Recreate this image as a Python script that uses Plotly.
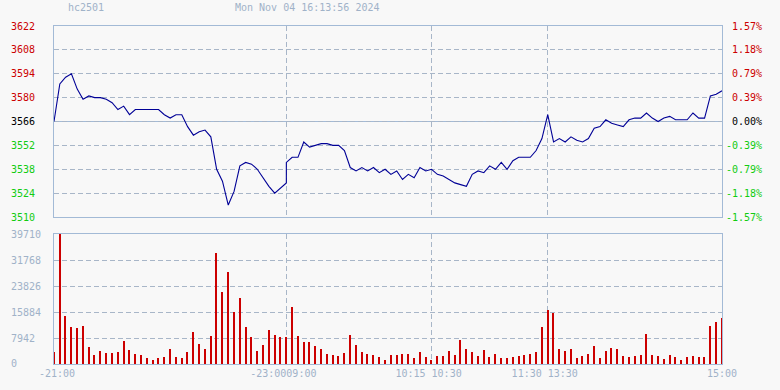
import plotly.graph_objects as go

# ---------------- data ----------------
symbol = "hc2501"
timestamp = "Mon Nov 04 16:13:56 2024"
prev_close = 3566

# trading-minute offsets (night session 21:00-23:00, then day session from 09:00);
# the 23:00 close and the 09:00 open share the same position
price_minutes = list(range(0, 121, 3)) + list(range(120, 346, 3))
prices = [
    3566, 3588, 3592, 3594, 3585, 3579, 3581, 3580, 3580, 3579,
    3577, 3573, 3575, 3570, 3573, 3573, 3573, 3573, 3573, 3570,
    3568, 3570, 3570, 3563, 3558, 3560, 3561, 3557, 3538, 3531,
    3517, 3525, 3540, 3542, 3541, 3538, 3533, 3528, 3524, 3527,
    3530,
    3542, 3545, 3545, 3554, 3551, 3552, 3553, 3553, 3552, 3552,
    3549, 3539, 3537, 3539, 3537, 3539, 3536, 3538, 3535, 3537,
    3532, 3535, 3533, 3539, 3537, 3538, 3535, 3534, 3532, 3530,
    3529, 3528, 3535, 3537, 3536, 3540, 3538, 3542, 3538, 3543,
    3545, 3545, 3545, 3549, 3556, 3570, 3554, 3556, 3554, 3557,
    3555, 3554, 3556, 3562, 3563, 3567, 3565, 3564, 3563, 3567,
    3568, 3568, 3571, 3568, 3566, 3568, 3569, 3567, 3567, 3567,
    3571, 3568, 3568, 3581, 3582, 3584,
]

volume_minutes = list(range(0, 346, 3))
volumes = [
    3770, 39710, 14760, 11200, 10890, 11500, 5290, 2650, 4070, 3260,
    3460, 3770, 7130, 4380, 3160, 2650, 1730, 1120, 1730, 2040,
    4680, 2040, 1730, 3770, 9880, 6210, 4680, 8650, 34000, 22090,
    28200, 15980, 20260, 11400, 8350, 4070, 5900, 10490, 8960, 8350,
    8350, 17510, 8650, 6820, 6820, 5600, 4680, 3160, 2850, 2550,
    3460, 8960, 5900, 3770, 3160, 2850, 2240, 1320, 2850, 2850,
    3160, 3160, 1930, 3770, 2240, 1320, 2550, 2550, 4070, 2850,
    7430, 4680, 3770, 2550, 4380, 2240, 3160, 1930, 1930, 2240,
    2550, 2850, 3160, 3770, 11400, 16490, 15680, 4680, 4070, 4680,
    1930, 2550, 3160, 5600, 1930, 4070, 4990, 4680, 2550, 2240,
    2550, 2850, 9260, 2850, 2550, 1630, 2850, 2240, 1320, 2240,
    2550, 2240, 2240, 11710, 12930, 14150,
]

price_ticks = [3510, 3524, 3538, 3552, 3566, 3580, 3594, 3608, 3622]
pct_labels = ["-1.57%", "-1.18%", "-0.79%", "-0.39%", "0.00%",
              "0.39%", "0.79%", "1.18%", "1.57%"]
vol_ticks = [0, 7942, 15884, 23826, 31768, 39710]
time_ticks = [0, 120, 195, 255, 345]
time_labels = ["-21:00", "-23:0009:00", "10:15 10:30", "11:30 13:30", "15:00"]

# ---------------- style ----------------
BG = "#f8f8f8"
FRAME = "#a3bad6"
GRID = "#a8b6c8"
LABEL = "#a0b2c8"
RED = "#cc0000"
GREEN = "#11cc11"
BLACK = "#000000"
LINE = "#000096"
FONT = "DejaVu Sans Mono"
NB = "\u00a0"


def tick_color(v):
    if v > prev_close:
        return RED
    if v < prev_close:
        return GREEN
    return BLACK


left_text = [f"<span style='color:{tick_color(v)}'>{v}</span>" for v in price_ticks]
right_text = [f"<span style='color:{tick_color(v)}'>{NB * (6 - len(t)) + t}</span>"
              for v, t in zip(price_ticks, pct_labels)]
vol_text = [str(v) + NB * (5 - len(str(v))) for v in vol_ticks]
# small alignment nudges of the time labels (monospace padding)
time_text = [NB + time_labels[0]] + [t + NB for t in time_labels[1:-1]] + [time_labels[-1]]

fig = go.Figure()
fig.add_trace(go.Scatter(x=price_minutes, y=prices, mode="lines",
                         line=dict(color=LINE, width=1.1),
                         xaxis="x", yaxis="y", hoverinfo="skip", showlegend=False))
fig.add_trace(go.Scatter(x=[price_minutes[0]], y=[prev_close], mode="markers",
                         marker=dict(opacity=0), xaxis="x", yaxis="y2",
                         hoverinfo="skip", showlegend=False))
fig.add_trace(go.Bar(x=volume_minutes, y=volumes, xaxis="x2", yaxis="y3",
                     marker=dict(color=RED, line=dict(width=0)), width=0.7,
                     hoverinfo="skip", showlegend=False))

grid_common = dict(showgrid=True, gridcolor=GRID, griddash="5px,3px", gridwidth=1,
                   zeroline=False, showline=True, mirror=True, linecolor=FRAME,
                   linewidth=1, ticks="")

fig.update_layout(
    width=780, height=390,
    margin=dict(l=54, r=58, t=26, b=26),
    paper_bgcolor=BG, plot_bgcolor=BG,
    font=dict(family=FONT, size=10, color=LABEL),
    bargap=0,
    xaxis=dict(domain=[0, 1], anchor="y", range=[0, 345], tickvals=time_ticks,
               showticklabels=False, **grid_common),
    yaxis=dict(domain=[0.4349, 1], anchor="x", range=[3510, 3622],
               tickvals=price_ticks, ticktext=left_text, ticklabelstandoff=16,
               **grid_common),
    yaxis2=dict(overlaying="y", side="right", anchor="x", range=[3510, 3622],
                tickvals=price_ticks, ticktext=right_text, showgrid=False,
                zeroline=False, showline=False, ticks="", ticklabelstandoff=3),
    xaxis2=dict(domain=[0, 1], anchor="y3", range=[0, 345], tickvals=time_ticks,
                ticktext=time_text, tickfont=dict(color=LABEL),
                ticklabelstandoff=0, **grid_common),
    yaxis3=dict(domain=[0, 0.3846], anchor="x2", range=[0, 39710],
                tickvals=vol_ticks, ticktext=vol_text, tickfont=dict(color=LABEL),
                ticklabelstandoff=10, **grid_common),
    shapes=[dict(type="line", xref="x", yref="y", x0=0, x1=345,
                 y0=prev_close, y1=prev_close, layer="below",
                 line=dict(color=FRAME, width=1))],
    annotations=[
        dict(text=symbol, xref="paper", yref="paper", x=0.018, y=1.056,
             xanchor="left", yanchor="middle", showarrow=False,
             font=dict(family=FONT, size=10, color=LABEL)),
        dict(text=timestamp, xref="paper", yref="paper", x=0.268, y=1.056,
             xanchor="left", yanchor="middle", showarrow=False,
             font=dict(family=FONT, size=10, color=LABEL)),
    ],
)

fig.write_html("out.html")
